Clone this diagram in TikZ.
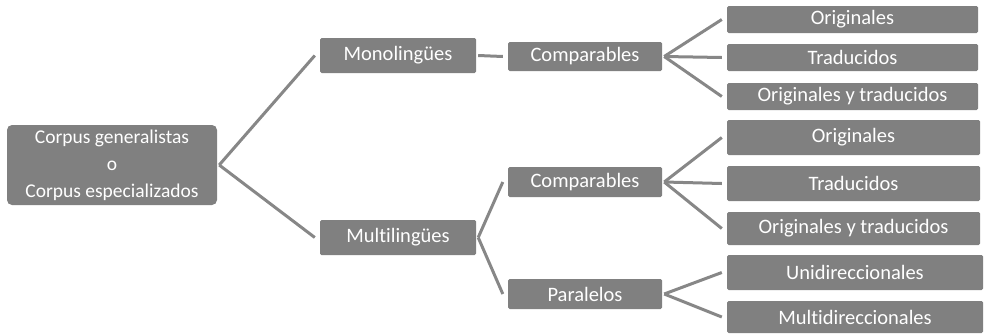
\documentclass[tikz,border=0pt]{standalone}
\usepackage{fontspec}
\setmainfont[Ligatures={NoCommon}]{Carlito}
\definecolor{boxgray}{RGB}{128,128,128}
\definecolor{linegray}{RGB}{135,135,135}
\begin{document}
\begin{tikzpicture}[x=1pt,y=-1pt,
  box/.style={fill=boxgray, text=white, rounded corners=1.5pt, inner sep=0pt,
    font=\fontsize{20.5}{27}\selectfont, align=center},
  link/.style={draw=linegray, line width=3pt}]
\useasboundingbox (0,0) rectangle (984,335);
% root
\node[box, rounded corners=5pt, minimum width=210, minimum height=80,
  font=\fontsize{19.5}{27}\selectfont] (root) at (112,165)
  {Corpus generalistas\\o\\Corpus especializados};
% second level
\node[box, minimum width=156, minimum height=35] (mono) at (398,55.5) {Monolingües};
\node[box, minimum width=156, minimum height=35] (multi) at (398,237.5) {Multilingües};
% third level
\node[box, minimum width=154, minimum height=29] (cmpA) at (585,56.5) {Comparables};
\node[box, minimum width=154, minimum height=30] (cmpB) at (585,182) {Comparables};
\node[box, minimum width=154, minimum height=30] (par) at (585,294) {Paralelos};
% leaves
\node[box, minimum width=251, minimum height=27] (origA) at (852.5,19.5) {Originales};
\node[box, minimum width=251, minimum height=27] (tradA) at (852.5,57.5) {Traducidos};
\node[box, minimum width=251, minimum height=27] (oytA) at (852.5,96.5) {Originales y traducidos};
\node[box, minimum width=253, minimum height=35] (origB) at (853.5,137.5) {Originales};
\node[box, minimum width=253, minimum height=35] (tradB) at (853.5,183.5) {Traducidos};
\node[box, minimum width=253, minimum height=33] (oytB) at (853.5,228.5) {Originales y traducidos};
\node[box, minimum width=256, minimum height=35] (uni) at (855,272.5) {Unidireccionales};
\node[box, minimum width=256, minimum height=32] (mdir) at (855,317) {Multidireccionales};
% connectors
\foreach \p/\c in {root/mono, root/multi, mono/cmpA, multi/cmpB, multi/par,
  cmpA/origA, cmpA/tradA, cmpA/oytA, cmpB/origB, cmpB/tradB, cmpB/oytB,
  par/uni, par/mdir}
  \draw[link] ([xshift=2pt]\p.east) -- ([xshift=-5pt]\c.west);
\end{tikzpicture}
\end{document}
